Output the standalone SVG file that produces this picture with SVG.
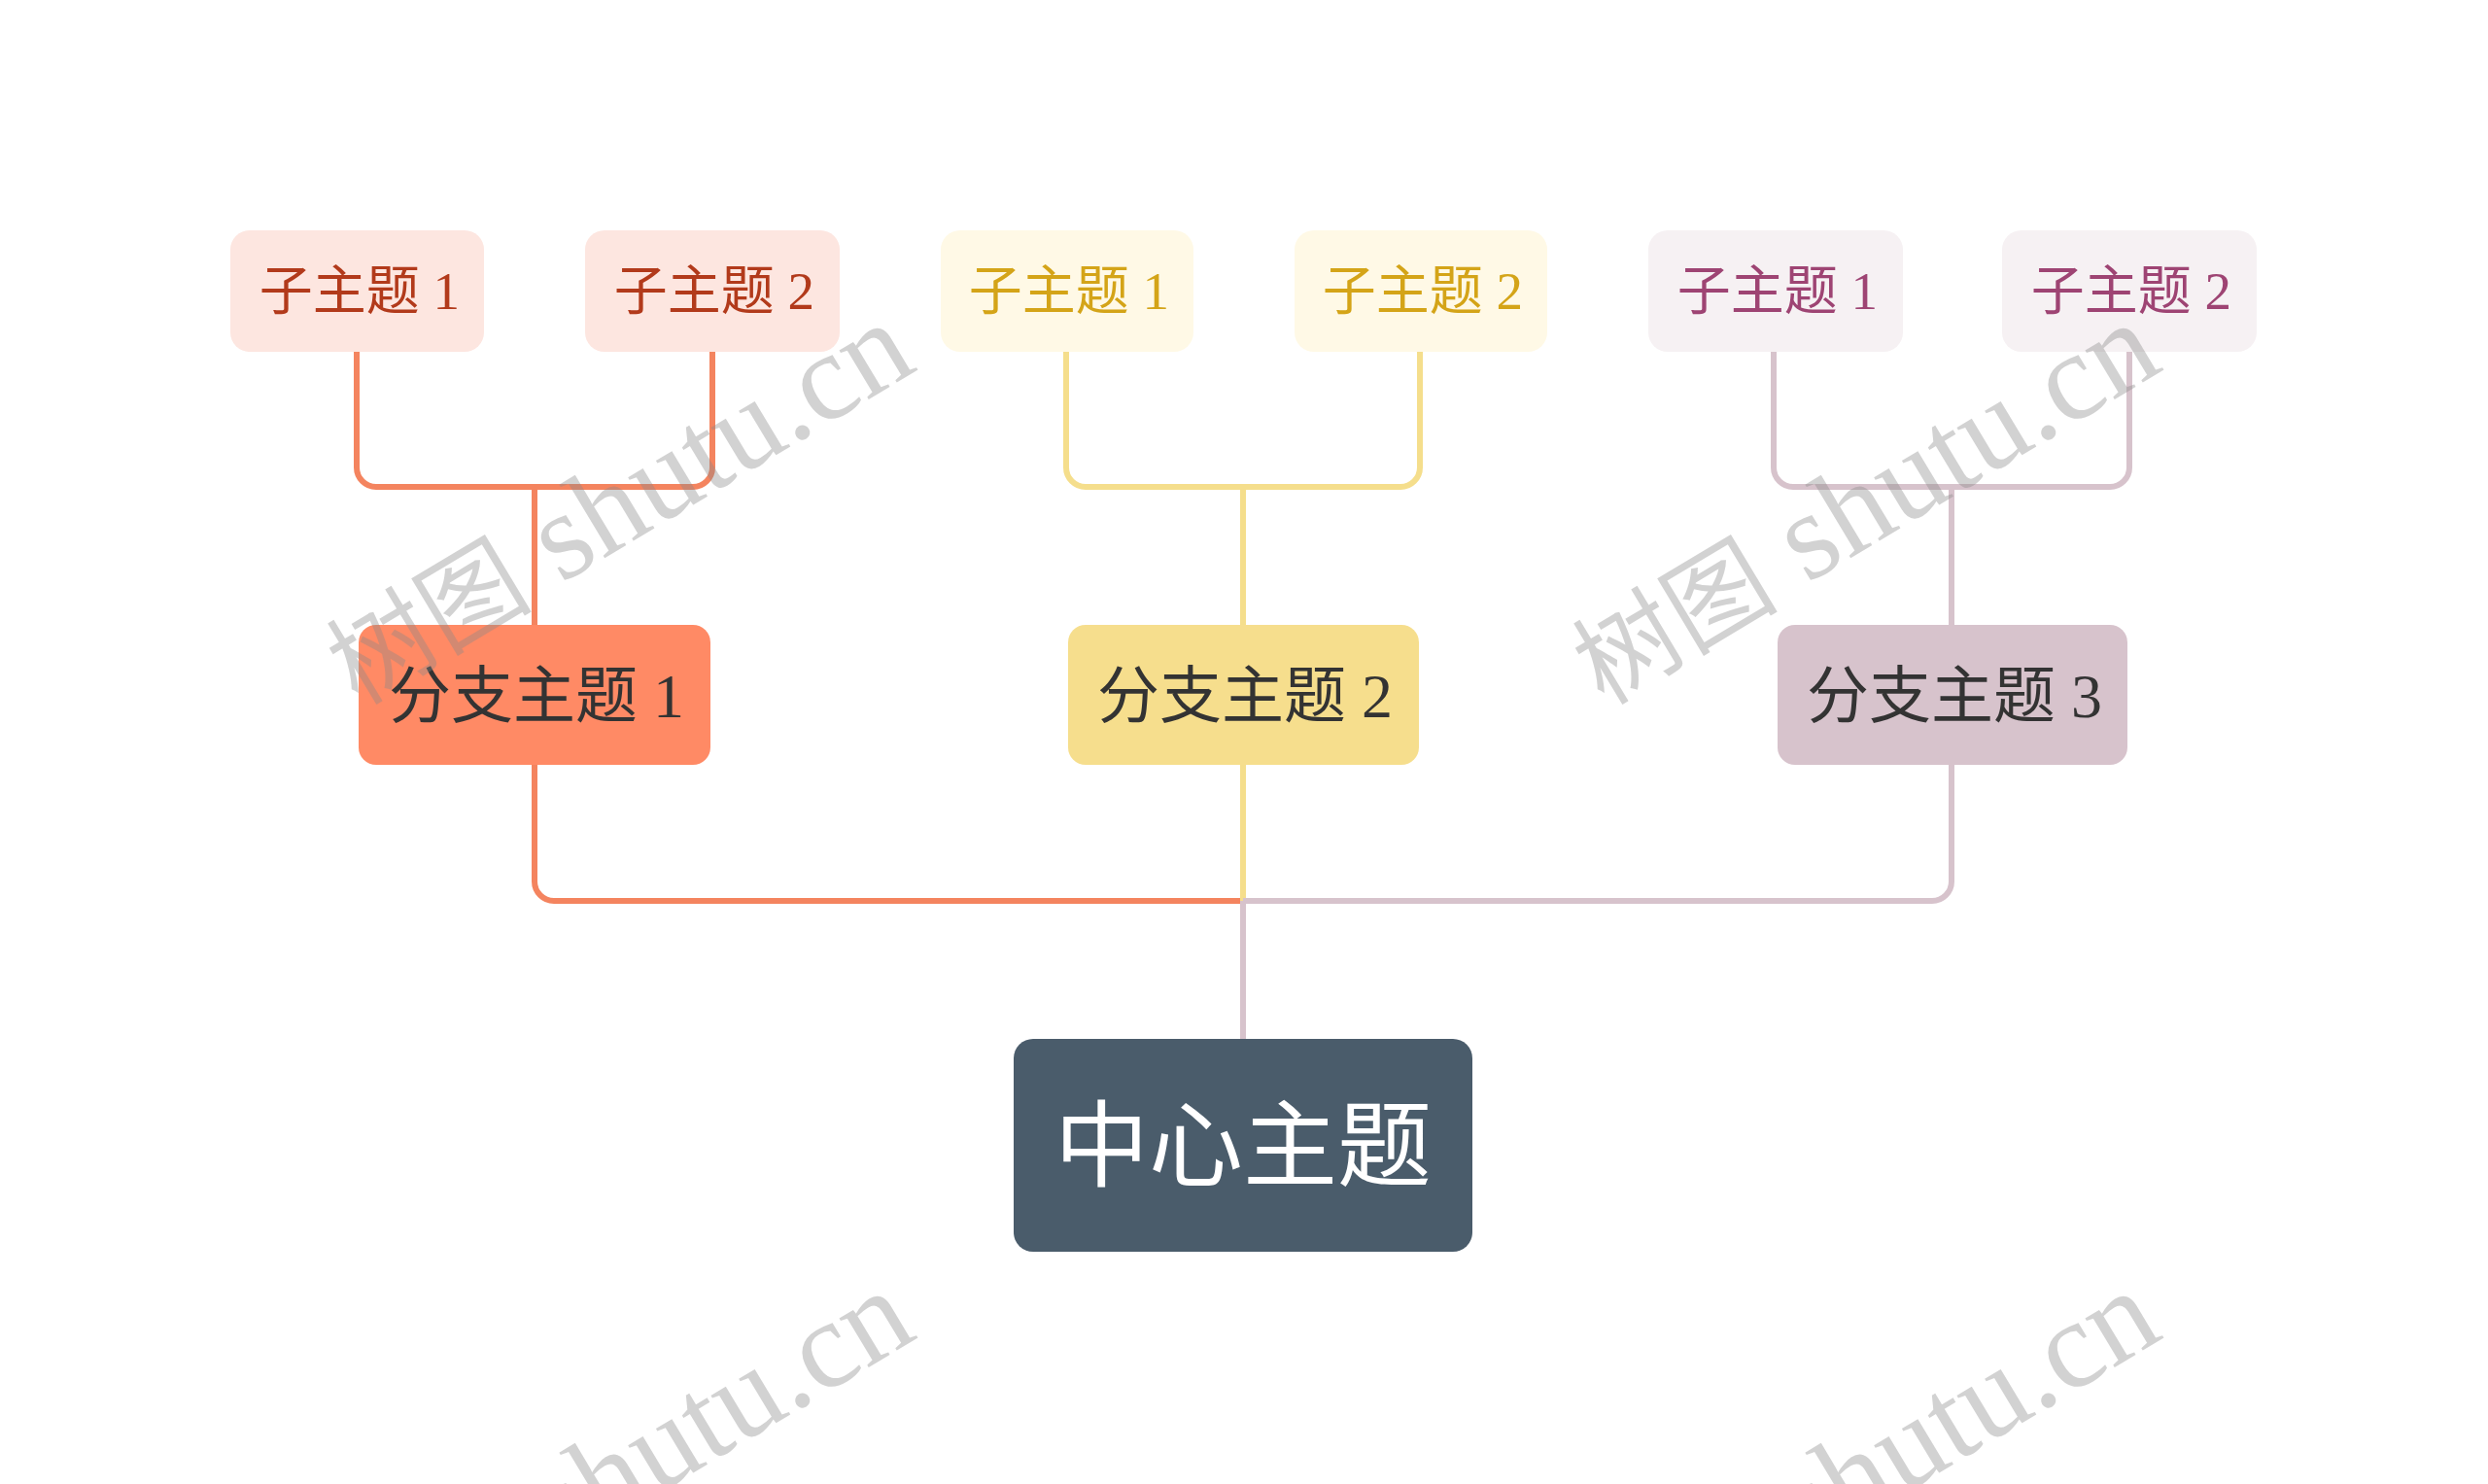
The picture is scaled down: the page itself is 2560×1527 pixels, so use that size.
<svg xmlns="http://www.w3.org/2000/svg" width="2560" height="1527" viewBox="0 0 2560 1527">
<style>
.sub{font-family:"Liberation Serif","Noto Sans CJK SC",serif;font-size:55px;text-anchor:middle}
.br{font-family:"Liberation Serif","Noto Sans CJK SC",serif;font-size:64px;text-anchor:middle;fill:#333}
.ctr{font-family:"Noto Sans CJK SC",sans-serif;font-size:97px;text-anchor:middle;fill:#fff}
.c1{stroke:#F4845F}
.c2{stroke:#F5DE8C}
.c3{stroke:#D7C3CC}
#connectors path{fill:none;stroke-width:6}
.wm{font-family:"Liberation Serif","Noto Sans CJK SC",serif;font-size:128px;fill:#888;fill-opacity:0.38;text-anchor:middle}
.wm .cj{font-size:106px}
</style>
<rect width="2560" height="1527" fill="#fff"/>
<g id="connectors">
<path class="c1" d="M367,362 V481 A20,20 0 0 0 387,501 H713 A20,20 0 0 0 733,481 V362"/>
<path class="c1" d="M550,501 V643"/>
<path class="c1" d="M550,787 V907 A20,20 0 0 0 570,927 H1279"/>
<path class="c2" d="M1097,362 V481 A20,20 0 0 0 1117,501 H1441 A20,20 0 0 0 1461,481 V362"/>
<path class="c2" d="M1279,501 V643"/>
<path class="c2" d="M1279,787 V927"/>
<path class="c3" d="M1825,362 V481 A20,20 0 0 0 1845,501 H2171 A20,20 0 0 0 2191,481 V362"/>
<path class="c3" d="M2008,501 V643"/>
<path class="c3" d="M2008,787 V907 A20,20 0 0 1 1988,927 H1279"/>
<path class="c3" d="M1279,927 V1069"/>
</g>
<g id="center">
<rect x="1043" y="1069" width="472" height="219" rx="20" fill="#4A5C6B"/>
<text class="ctr" x="1279" y="1213">中心主题</text>
</g>
<g id="branch1">
<rect x="369" y="643" width="362" height="144" rx="18" fill="#FF8A65"/>
<text class="br" x="552" y="738">分支主题 1</text>
</g>
<g id="branch2">
<rect x="1099" y="643" width="361" height="144" rx="18" fill="#F6DE8D"/>
<text class="br" x="1281" y="738">分支主题 2</text>
</g>
<g id="branch3">
<rect x="1829" y="643" width="360" height="144" rx="18" fill="#D7C3CC"/>
<text class="br" x="2011" y="738">分支主题 3</text>
</g>
<g id="sub1-1">
<rect x="237" y="237" width="261" height="125" rx="20" fill="#FDE6E0"/>
<text class="sub" x="370" y="318" fill="#B23A1B">子主题 1</text>
</g>
<g id="sub1-2">
<rect x="602" y="237" width="262" height="125" rx="20" fill="#FDE6E0"/>
<text class="sub" x="735" y="318" fill="#B23A1B">子主题 2</text>
</g>
<g id="sub2-1">
<rect x="968" y="237" width="260" height="125" rx="20" fill="#FFF9E6"/>
<text class="sub" x="1100" y="318" fill="#D4A418">子主题 1</text>
</g>
<g id="sub2-2">
<rect x="1332" y="237" width="260" height="125" rx="20" fill="#FFF9E6"/>
<text class="sub" x="1464" y="318" fill="#D4A418">子主题 2</text>
</g>
<g id="sub3-1">
<rect x="1696" y="237" width="262" height="125" rx="20" fill="#F6F1F3"/>
<text class="sub" x="1829" y="318" fill="#9E4473">子主题 1</text>
</g>
<g id="sub3-2">
<rect x="2060" y="237" width="262" height="125" rx="20" fill="#F6F1F3"/>
<text class="sub" x="2193" y="318" fill="#9E4473">子主题 2</text>
</g>
<g id="watermarks">
<text class="wm" transform="translate(636,518) rotate(-31)" y="41"><tspan class="cj">树图</tspan> shutu.cn</text>
<text class="wm" transform="translate(1918,518) rotate(-31)" y="41"><tspan class="cj">树图</tspan> shutu.cn</text>
<text class="wm" transform="translate(636,1514) rotate(-31)" y="41"><tspan class="cj">树图</tspan> shutu.cn</text>
<text class="wm" transform="translate(1918,1514) rotate(-31)" y="41"><tspan class="cj">树图</tspan> shutu.cn</text>
</g>
</svg>
